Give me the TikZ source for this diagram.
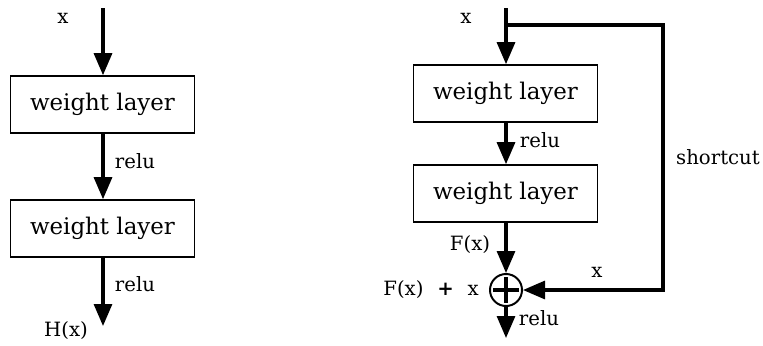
\documentclass[tikz,border=0pt]{standalone}
\usepackage{fontspec}
\setmainfont{DejaVu Serif}
\usepackage{tikz}
\usetikzlibrary{arrows.meta,positioning,calc}
\tikzset{
  layer/.style={draw, line width=1.3pt, minimum width=4.6cm, minimum height=1.42cm, inner sep=0pt, font=\fontsize{16.3}{19}\selectfont},
  flow/.style={line width=2.2pt, -{Triangle[length=0.55cm,width=0.45cm]}},
  lbl/.style={font=\fontsize{14}{17}\selectfont}
}
\begin{document}
\begin{tikzpicture}[x=0.025cm, y=-0.025cm]
  \useasboundingbox (0,0) rectangle (763,345);
  % plain block
  \coordinate (lin) at (103,8);
  \node[layer] (l1) at (102.5,104.5) {weight layer};
  \node[layer] (l2) at (102.5,228.5) {weight layer};
  \coordinate (lout) at (103,326);
  \draw[flow] (lin) -- (l1.north -| lin);
  \draw[flow] (l1.south -| lin) -- (l2.north -| lin);
  \draw[flow] (l2.south -| lin) -- (lout);
  \node[lbl] (lx) at (63,18) {x};
  \node[lbl] (lr1) at (135,161) {relu};
  \node[lbl] (lr2) at (135,284) {relu};
  \node[lbl] (lh) at (66,331) {H(x)};
  % residual block
  \coordinate (rin) at (506,8);
  \coordinate (split) at (506,25);
  \node[layer] (r1) at (505.5,93.5) {weight layer};
  \node[layer] (r2) at (505.5,193.5) {weight layer};
  \node[draw, circle, line width=1.4pt, minimum size=0.8cm, inner sep=0pt] (sum) at (506,290) {};
  \draw[line width=2.4pt] ($(sum.north)+(0,4)$) -- ($(sum.south)+(0,-4)$);
  \draw[line width=2.4pt] ($(sum.west)+(4,0)$) -- ($(sum.east)+(-4,0)$);
  \coordinate (sc) at (663,290);
  \coordinate (rout) at (506,338);
  \draw[flow] (rin) -- (r1.north -| rin);
  \draw[flow] (r1.south -| rin) -- (r2.north -| rin);
  \draw[flow] (r2.south -| rin) -- (sum.north);
  \draw[flow] (split) -| (sc) -- (sum.east);
  \draw[flow] (sum.south) -- (rout);
  \node[lbl] (rx) at (466,18) {x};
  \node[lbl] (rr1) at (540,140) {relu};
  \node[lbl] (rs) at (718,157) {shortcut};
  \node[lbl] (rf) at (470,245) {F(x)};
  \node[lbl] (rxs) at (597,272) {x};
  \node[lbl] (rsum) at (431,290) {F(x)\hspace{0.7em}\textbf{+}\hspace{0.7em}x};
  \node[lbl] (rr2) at (539,318) {relu};
\end{tikzpicture}
\end{document}
